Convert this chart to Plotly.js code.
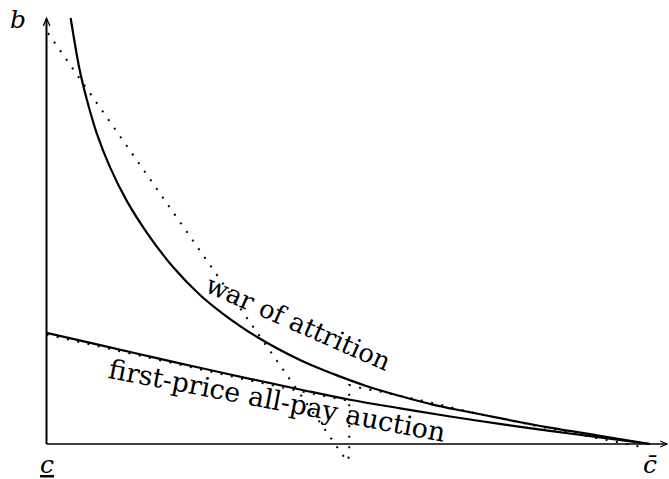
<!DOCTYPE html>
<html>
<head>
<meta charset="utf-8">
<script src="https://cdn.plot.ly/plotly-3.0.1.min.js"></script>
<style>html,body{margin:0;padding:0;background:#fff;}#chart{width:669px;height:479px;}</style>
</head>
<body>
<div id="chart"></div>
<script>
// Cost c normalised so that c_low = 0 and c_high = 1; bid b in arbitrary units.
const warX = [0.040, 0.055, 0.067, 0.083, 0.105, 0.133, 0.167, 0.210, 0.254, 0.293, 0.349, 0.420, 0.475, 0.531, 0.586, 0.640, 0.697, 0.751, 0.834, 0.917, 1.000];
const warY = [1.039, 0.912, 0.839, 0.759, 0.676, 0.593, 0.514, 0.431, 0.364, 0.317, 0.261, 0.205, 0.171, 0.141, 0.117, 0.096, 0.079, 0.063, 0.040, 0.020, 0.000];

const fpX = [0.000, 0.089, 0.172, 0.254, 0.337, 0.420, 0.503, 0.586, 0.669, 0.751, 0.834, 0.917, 1.000];
const fpY = [0.271, 0.241, 0.213, 0.186, 0.159, 0.133, 0.108, 0.087, 0.067, 0.049, 0.032, 0.016, 0.000];

const dotAX = [0.0025, 0.488, 0.498, 0.5017, 0.5017, 0.520, 0.539, 0.556, 0.640, 0.707, 0.763, 0.814, 0.848, 0.934, 0.985];
const dotAY = [1.002, -0.020, -0.042, -0.029, 0.144, 0.137, 0.132, 0.127, 0.100, 0.076, 0.059, 0.044, 0.034, 0.007, -0.007];

const dotBX = [0.000, 0.089, 0.172, 0.254, 0.337, 0.420, 0.5017];
const dotBY = [0.267, 0.237, 0.210, 0.182, 0.155, 0.129, 0.105];

const labelWar = "war of attrition";
const labelFP = "first-price all-pay auction";
const labelB = "<i>b</i>";
const labelCLow = "<u><i>c</i></u>";
const labelCHigh = "<i>c\u0304</i>";

const FONT = "DejaVu Serif";
const dotDash = "2px,8.5px";

const traces = [
  {x: warX, y: warY, mode: "lines", line: {color: "#000", width: 2.2, shape: "spline", smoothing: 1}, hoverinfo: "skip"},
  {x: fpX, y: fpY, mode: "lines", line: {color: "#000", width: 2.2, shape: "spline", smoothing: 1}, hoverinfo: "skip"},
  {x: dotAX, y: dotAY, mode: "lines", line: {color: "#000", width: 2, dash: dotDash}, hoverinfo: "skip"},
  {x: dotBX, y: dotBY, mode: "lines", line: {color: "#000", width: 2, dash: dotDash}, hoverinfo: "skip"}
];

const ax = v => ({visible: false, range: v, fixedrange: true});

const layout = {
  width: 669, height: 479,
  margin: {l: 0, r: 0, t: 0, b: 0},
  paper_bgcolor: "#fff", plot_bgcolor: "#fff",
  showlegend: false,
  xaxis: ax([-0.07705, 1.03148]),
  yaxis: ax([-0.08537, 1.08293]),
  shapes: [
    {type: "line", x0: 0, y0: 0, x1: 0, y1: 1.037, line: {color: "#000", width: 2}},
    {type: "path", path: "M -0.0053,1.0195 L 0,1.0383 L 0.0058,1.0195", line: {color: "#000", width: 1.3}},
    {type: "line", x0: 0, y0: 0, x1: 1.028, y1: 0, line: {color: "#000", width: 1.6}},
    {type: "path", path: "M 1.0168,0.0073 L 1.0282,0 L 1.0168,-0.0073", line: {color: "#000", width: 1.1}}
  ],
  annotations: [
    {text: labelWar, x: 0.4176, y: 0.2951, xanchor: "center", yanchor: "middle", textangle: 23.7, showarrow: false, font: {family: FONT, size: 25.8, color: "#000"}},
    {text: labelFP, x: 0.382, y: 0.1049, xanchor: "center", yanchor: "middle", textangle: 10.8, showarrow: false, font: {family: FONT, size: 26.8, color: "#000"}},
    {text: labelB, x: -0.0472, y: 1.0366, xanchor: "center", yanchor: "middle", showarrow: false, font: {family: FONT, size: 25, color: "#000"}},
    {text: labelCLow, x: 0.0003, y: -0.0488, xanchor: "center", yanchor: "middle", showarrow: false, font: {family: FONT, size: 25, color: "#000"}},
    {text: labelCHigh, x: 1.0, y: -0.0488, xanchor: "center", yanchor: "middle", showarrow: false, font: {family: FONT, size: 25, color: "#000"}}
  ]
};

Plotly.newPlot("chart", traces, layout, {staticPlot: true, displayModeBar: false});
</script>
</body>
</html>
